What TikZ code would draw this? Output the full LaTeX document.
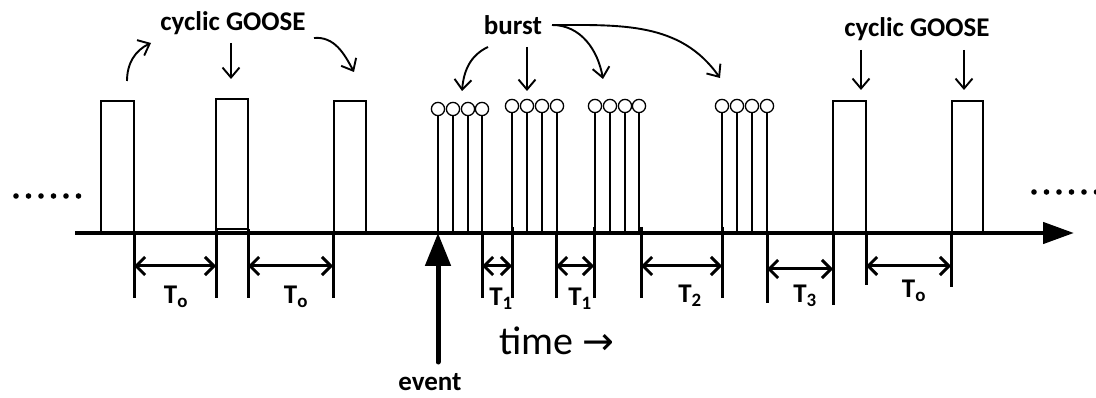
\documentclass[tikz,border=0pt]{standalone}
\usepackage{fontspec}
\setmainfont{Carlito}
\newfontfamily\djv{DejaVu Sans}
\usetikzlibrary{arrows.meta}
\begin{document}
\begin{tikzpicture}[x=1pt,y=-1pt,
  thin line/.style={line width=1.4pt},
  pulse/.style={draw,line width=1.5pt,fill=white},
  lolli/.style={draw,line width=1.3pt,fill=white},
  tickline/.style={line width=3pt},
  dim/.style={line width=3pt,{Straight Barb[length=9pt,width=18pt]}-{Straight Barb[length=9pt,width=18pt]}},
  callout/.style={line width=1.9pt,-{Straight Barb[length=10pt,width=17pt]}},
  lbl/.style={font=\bfseries\fontsize{27}{30}\selectfont,inner sep=0pt},
  tlbl/.style={font=\bfseries\fontsize{27}{30}\selectfont,inner sep=0pt},
  dots/.style={fill=black}
]
\useasboundingbox (0,0) rectangle (1096,398);

% dotted continuation marks
\foreach \x in {16,28.5,41,53.5,66,78.5}{\fill[dots] (\x,196) circle (2.8);}
\foreach \x in {1034,1046.5,1059,1071.5,1084,1096.5}{\fill[dots] (\x,192) circle (2.8);}

% cyclic GOOSE pulses
\draw[pulse] (101,233) -- (101,101) -- (134,101) -- (134,233);
\draw[pulse] (216,229) rectangle (248,99);
\draw[pulse] (334,233) -- (334,101) -- (366,101) -- (366,233);
\draw[pulse] (833,233) -- (833,101) -- (866,101) -- (866,233);
\draw[pulse] (952,233) -- (952,101) -- (983,101) -- (983,233);

% burst lollipops
\foreach \x in {438,453,468,482}{\draw[thin line] (\x,115) -- (\x,233); \draw[lolli] (\x,109) circle (6.6);}
\foreach \x in {512,527,542,557}{\draw[thin line] (\x,112) -- (\x,233); \draw[lolli] (\x,106) circle (6.6);}
\foreach \x in {595,610,625,639}{\draw[thin line] (\x,112) -- (\x,233); \draw[lolli] (\x,106) circle (6.6);}
\foreach \x in {722,737,752,767}{\draw[thin line] (\x,112) -- (\x,233); \draw[lolli] (\x,106) circle (6.6);}

% time axis
\coordinate (axs) at (75,233);
\coordinate (axe) at (1074,233);
\draw[line width=4.5pt,-{Triangle[length=31pt,width=21pt]}] (axs) -- (axe);

% event arrow
\node[lbl] (event) at (430,382) {event};
\coordinate (evs) at (438,362);
\coordinate (eve) at (438,233);
\draw[line width=5pt,line cap=round,-{Triangle[length=33pt,width=25pt]}] (evs) -- (eve);

% measurement ticks
\foreach \n/\x/\ya/\yb in {a/134/233/298,b/216/229/298,c/248/229/298,d/333/233/298,
  e/482/233/298,f/512/227/298,g/556/233/298,h/594/227/298,i/641/227/298,j/722/227/298,
  k/767/233/303,l/833/233/305,m/866/233/285,n/951/233/287}{
  \coordinate (t\n) at (\x,\ya);
  \draw[tickline] (t\n) -- (\x,\yb);
}
% dimension arrows
\draw[dim] ([yshift=-33pt]ta) -- ([yshift=-33pt]tb |- ta);
\draw[dim] ([yshift=-37pt]tc) -- ([yshift=-33pt]td);
\draw[dim] ([yshift=-33pt]te) -- ([yshift=-39pt]tf);
\draw[dim] ([yshift=-33pt]tg) -- ([yshift=-39pt]th);
\draw[dim] ([yshift=-39pt]ti) -- ([yshift=-39pt]tj);
\draw[dim] ([yshift=-36pt]tk) -- ([yshift=-36pt]tl);
\draw[dim] ([yshift=-33pt]tm) -- ([yshift=-33pt]tn);

% period labels
\node[tlbl] (to1) at (176,297) {T\textsubscript{o}};
\node[tlbl] (to2) at (296,297) {T\textsubscript{o}};
\node[tlbl] (t11) at (501,299) {T\textsubscript{1}};
\node[tlbl] (t12) at (580,299) {T\textsubscript{1}};
\node[tlbl] (t2) at (690,296) {T\textsubscript{2}};
\node[tlbl] (t3) at (805,296) {T\textsubscript{3}};
\node[tlbl] (to3) at (914,291) {T\textsubscript{o}};

% time label
\node[inner sep=0pt,font=\fontsize{40}{44}\selectfont] (time) at (557,341) {time {\djv\fontsize{38}{42}\selectfont →}};

% cyclic GOOSE labels and callouts
\node[lbl] (cg1) at (233,23) {cyclic GOOSE};
\node[lbl] (cg2) at (917,29) {cyclic GOOSE};
\node[lbl] (burst) at (513,25) {burst};

\coordinate (a1s) at (127,81);   \coordinate (a1e) at (151,43);
\coordinate (a2s) at (231,43);   \coordinate (a2e) at (231,79);
\coordinate (a3s) at (314,38);   \coordinate (a3e) at (354,72);
\draw[callout] (a1s) to[out=90,in=205] (a1e);
\draw[callout] (a2s) -- (a2e);
\draw[callout] (a3s) to[out=5,in=118] (a3e);

\coordinate (b1s) at (488,47);   \coordinate (b1e) at (462,91);
\coordinate (b2s) at (527,47);   \coordinate (b2e) at (527,91);
\coordinate (b3s) at (552,25);   \coordinate (b3e) at (603,79);
\coordinate (b4e) at (720,78);
\draw[callout] (b1s) to[out=205,in=85] (b1e);
\draw[callout] (b2s) -- (b2e);
\draw[callout] (b3s) to[out=0,in=100] (b3e);
\draw[callout] (b3s) to[out=0,in=125] (b4e);

\coordinate (c1s) at (861,50);   \coordinate (c1e) at (861,90);
\coordinate (c2s) at (964,50);   \coordinate (c2e) at (964,90);
\draw[callout] (c1s) -- (c1e);
\draw[callout] (c2s) -- (c2e);
\end{tikzpicture}
\end{document}
